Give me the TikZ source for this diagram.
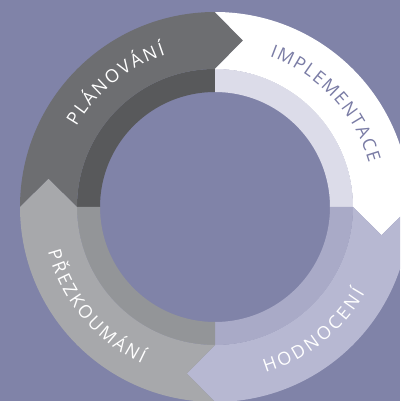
\documentclass[tikz,border=0pt]{standalone}
\usepackage{fontspec}
\setmainfont{Open Sans}
\usetikzlibrary{decorations.text,calc}
\definecolor{bg}{HTML}{8083A8}
\definecolor{darkout}{HTML}{6D6E71}
\definecolor{darkin}{HTML}{58595B}
\definecolor{whiteout}{HTML}{FFFFFF}
\definecolor{whitein}{HTML}{DCDCE9}
\definecolor{lavout}{HTML}{B7B8D2}
\definecolor{lavin}{HTML}{A9AAC7}
\definecolor{grayout}{HTML}{A7A8AB}
\definecolor{grayin}{HTML}{939598}
\definecolor{txtblue}{HTML}{7A7CA5}
\tikzset{
  ringlabel/.style n args={2}{decorate, decoration={text along path,
    text={|\fontsize{18}{18}\selectfont\color{#2}|#1}, text align={fit to path}}}
}
\begin{document}
\begin{tikzpicture}[x=1pt,y=1pt]
\useasboundingbox (-215,-194) rectangle (185,207);
\fill[bg] (-215,-194) rectangle (185,207);
\begin{scope}
\clip (-215,-194) rectangle (185,207);
% inner ring
\foreach \a/\c [evaluate=\a as \b using \a-90] in {180/darkin, 90/whitein, 0/lavin, -90/grayin}{
  \fill[\c] (\a:138) arc[start angle=\a, end angle=\b, radius=138]
    -- (\b:115) arc[start angle=\b, end angle=\a, radius=115] -- cycle;
}
% outer arrow segments
\foreach \a/\c [evaluate=\a as \b using \a-90, evaluate=\a as \ta using \a-90, evaluate=\a as \tb using \a-180] in {180/darkout, 90/whiteout, 0/lavout, -90/grayout}{
  \fill[\c] (\a:195) arc[start angle=\a, end angle=\b, radius=195]
    -- ($(\b:166.5)+(\tb:28)$) -- (\b:138)
    arc[start angle=\b, end angle=\a, radius=138]
    -- ($(\a:166.5)+(\ta:28)$) -- cycle;
}
\end{scope}
% labels
\path[ringlabel={PLÁNOVÁNÍ}{white}] (150:160) arc[start angle=150, end angle=108, radius=160];
\path[ringlabel={IMPLEMENTACE}{txtblue}] (70:160) arc[start angle=70, end angle=16, radius=160];
\path[ringlabel={HODNOCENÍ}{white}] (-73:173) arc[start angle=-73, end angle=-30, radius=173];
\path[ringlabel={PŘEZKOUMÁNÍ}{white}] (195:173) arc[start angle=195, end angle=245, radius=173];
\end{tikzpicture}
\end{document}
